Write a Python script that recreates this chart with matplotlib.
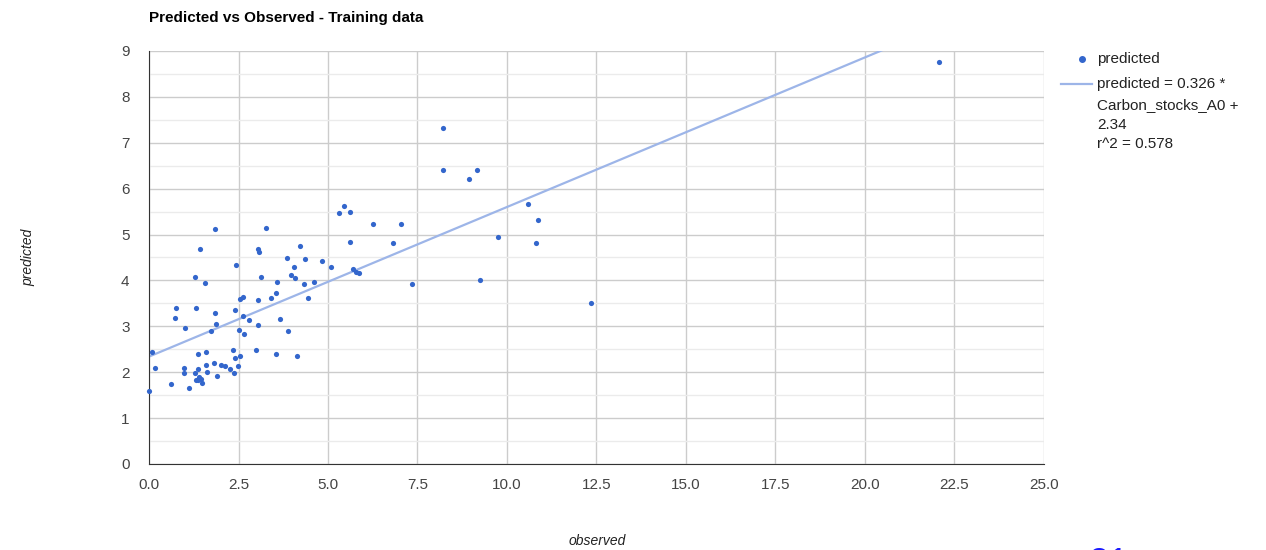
import matplotlib.pyplot as plt
from matplotlib.ticker import MultipleLocator

plt.rcParams['font.family'] = ['Liberation Sans', 'DejaVu Sans']

# observed (Carbon_stocks_A0) vs predicted
observed = [1.83, 1.42, 3.27, 2.43, 1.28, 1.56, 0.75, 1.32, 0.73, 1.83,
            1.88, 1.01, 1.73, 2.41, 2.53, 2.62, 2.62, 2.51, 2.64, 2.79,
            3.04, 3.05, 3.13, 3.04, 3.08, 3.40, 3.56, 3.57, 3.66, 3.89,
            3.85, 3.97, 4.05, 4.07, 4.23, 4.35, 4.33, 4.45, 4.62, 4.83,
            5.07, 5.32, 5.45, 5.62, 5.61, 5.71, 5.77, 5.87,
            0.08, 0.17, 0.01, 0.61, 1.13, 0.98, 0.98, 1.28, 1.37, 1.38,
            1.60, 1.58, 1.63, 1.32, 1.40, 1.44, 1.49, 1.38, 1.81, 1.89,
            2.02, 2.11, 2.27, 2.36, 2.40, 2.38, 2.49, 2.55, 3.00, 3.54,
            4.14,
            6.26, 7.05, 6.82, 7.35, 8.22, 8.20, 9.16, 8.95, 10.60, 10.87,
            10.82, 9.76, 9.25, 12.35, 22.07]
predicted = [5.11, 4.68, 5.14, 4.34, 4.07, 3.94, 3.39, 3.41, 3.19, 3.30,
             3.06, 2.96, 2.90, 3.36, 3.59, 3.63, 3.22, 2.93, 2.83, 3.14,
             3.03, 3.57, 4.08, 4.68, 4.62, 3.61, 3.72, 3.96, 3.17, 2.89,
             4.48, 4.12, 4.29, 4.05, 4.75, 4.47, 3.92, 3.61, 3.96, 4.43,
             4.30, 5.48, 5.62, 5.49, 4.83, 4.24, 4.19, 4.17,
             2.43, 2.09, 1.58, 1.74, 1.65, 2.10, 1.98, 1.98, 2.06, 2.40,
             2.43, 2.16, 2.00, 1.83, 1.90, 1.85, 1.77, 1.83, 2.21, 1.92,
             2.16, 2.13, 2.08, 2.48, 2.32, 1.98, 2.14, 2.35, 2.48, 2.39,
             2.36,
             5.24, 5.24, 4.81, 3.92, 7.32, 6.41, 6.41, 6.22, 5.66, 5.32,
             4.81, 4.94, 4.02, 3.51, 8.76]

slope = 0.326
intercept = 2.34
r2 = 0.578
trend_x = [0, 25]

fig = plt.figure(figsize=(12.66, 5.5), dpi=100)
ax = fig.add_axes([0.1177, 0.1564, 0.7069, 0.7509])

ax.plot(trend_x, [intercept + slope * x for x in trend_x],
        color='#9db5e8', lw=1.6, zorder=2)
ax.scatter(observed, predicted, s=14, color='#3366cc', zorder=3,
           linewidths=0, clip_on=False)

ax.set_xlim(0, 25)
ax.set_ylim(0, 9)
ax.yaxis.set_major_locator(MultipleLocator(1))
ax.yaxis.set_minor_locator(MultipleLocator(0.5))
ax.set_xticks([0, 2.5, 5, 7.5, 10, 12.5, 15, 17.5, 20, 22.5, 25])
ax.set_xticklabels(['0.0', '2.5', '5.0', '7.5', '10.0', '12.5', '15.0',
                    '17.5', '20.0', '22.5', '25.0'])
ax.grid(True, which='major', color='#cccccc', lw=1, zorder=0)
ax.grid(True, which='minor', axis='y', color='#ebebeb', lw=1, zorder=0)
ax.set_axisbelow(True)
ax.tick_params(which='both', length=0, labelsize=11, colors='#444444', pad=10)
ax.tick_params(axis='y', pad=14)

for side in ['top', 'right']:
    ax.spines[side].set_visible(False)
ax.spines['left'].set_color('#333333')
ax.spines['bottom'].set_color('#333333')

fig.text(149 / 1266, 1 - 18 / 550, 'Predicted vs Observed - Training data',
         fontsize=11, fontweight='bold', color='#000000', va='center')
fig.text(28 / 1266, 1 - 257 / 550, 'predicted', rotation=90, style='italic',
         fontsize=10, color='#222222', ha='center', va='center')
fig.text(597 / 1266, 1 - 541 / 550, 'observed', style='italic',
         fontsize=10, color='#222222', ha='center', va='center')

# legend drawn by hand, Google-chart style
fig.lines.append(plt.Line2D([1082 / 1266], [1 - 59 / 550], marker='o',
                            markersize=4, color='#3366cc', transform=fig.transFigure))
fig.lines.append(plt.Line2D([1061 / 1266, 1092 / 1266], [1 - 84 / 550, 1 - 84 / 550],
                            color='#9db5e8', lw=1.6, transform=fig.transFigure))
legend_lines = ['predicted',
                'predicted = %.3f *' % slope,
                'Carbon_stocks_A0 +',
                '%.2f' % intercept,
                'r^2 = %.3f' % r2]
legend_y = [59, 84, 105, 125, 144]
for txt, yy in zip(legend_lines, legend_y):
    fig.text(1097 / 1266, 1 - yy / 550, txt, fontsize=11, color='#222222', va='center')

# page number at the bottom edge, only its top shows in the reference
fig.text(1108 / 1266, -14 / 550, '21', fontsize=26, color='#1a1aff', ha='center', va='center')

fig.savefig('out.png', dpi=100)
